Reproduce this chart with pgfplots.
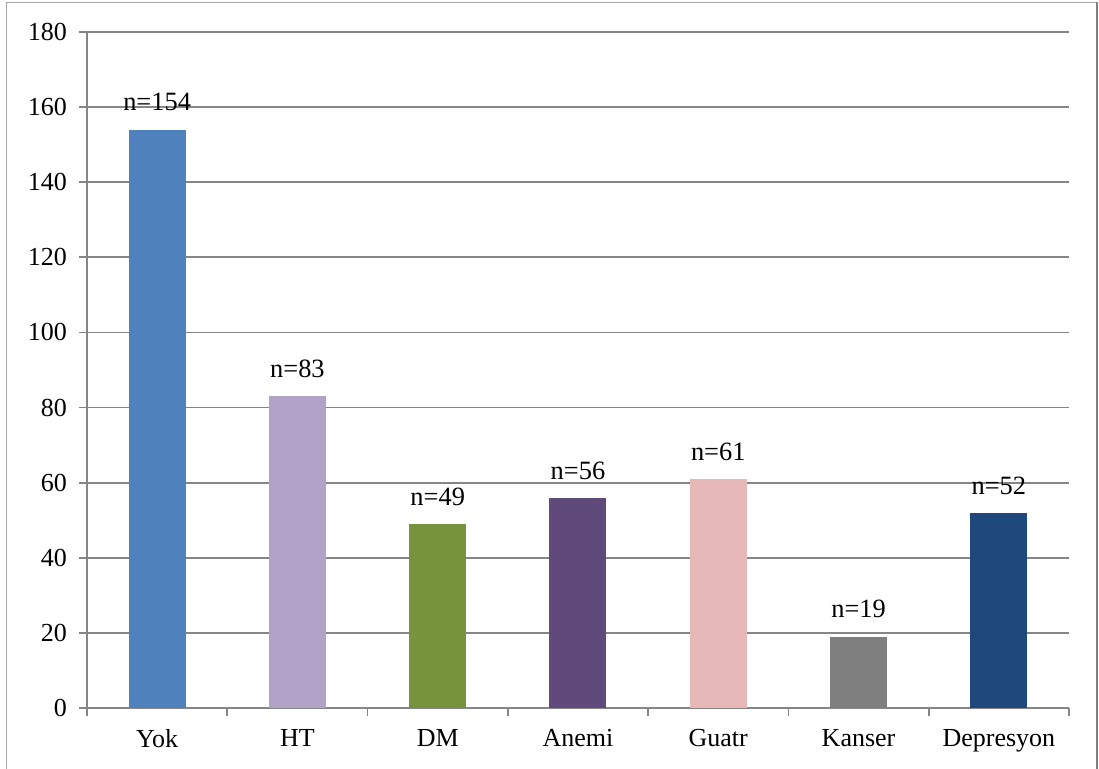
\documentclass[border=0pt]{standalone}
\usepackage{fontspec}
\setmainfont{Liberation Serif}
\usepackage{pgfplots}
\pgfplotsset{compat=1.18}
\definecolor{c1}{HTML}{4F81BD}
\definecolor{c2}{HTML}{B3A2C7}
\definecolor{c3}{HTML}{77933C}
\definecolor{c4}{HTML}{604A7B}
\definecolor{c5}{HTML}{E6B9B8}
\definecolor{c6}{HTML}{7F7F7F}
\definecolor{c7}{HTML}{1F497D}
\definecolor{gridc}{HTML}{868686}
\begin{document}
\begin{tikzpicture}
\useasboundingbox (0,0) rectangle (549.5pt,384.5pt);
\draw[line width=0.6pt, color=gray!70] (3.25pt,-1pt) -- (3.25pt,383.25pt) -- (548.5pt,383.25pt);
\draw[line width=1.2pt, color=gray] (548.5pt,383.25pt) -- (548.5pt,-1pt);
\begin{axis}[
  at={(43.5pt,30.5pt)}, anchor=south west,
  scale only axis, width=491pt, height=338pt,
  xmin=-0.5, xmax=6.5, ymin=0, ymax=180,
  ytick={0,20,...,180},
  xtick={0,...,6},
  xticklabels={Yok,HT,DM,Anemi,Guatr,Kanser,Depresyon},
  minor xtick={-0.5,0.5,...,6.5},
  axis lines*=left,
  axis line style={gridc, line width=0.9pt, -},
  ymajorgrids,
  grid style={gridc, line width=0.9pt},
  tick align=outside,
  major tick length=4pt, minor tick length=4pt,
  major x tick style={draw=none},
  minor x tick style={gridc, line width=0.9pt},
  ytick style={gridc, line width=0.9pt},
  /pgf/number format/assume math mode=true,
  ticklabel style={font=\fontsize{13}{15}\selectfont},
  yticklabel style={xshift=-2.5pt},
  xticklabel style={yshift=-3pt},
  ybar, bar width=28.5pt, bar shift=0pt,
  nodes near coords={n=\pgfmathprintnumber{\pgfplotspointmeta}},
  every node near coord/.append style={font=\fontsize{13.2}{15}\selectfont, anchor=south, inner sep=0pt, yshift=9pt, color=black},
]
\addplot[fill=c1, draw=none] coordinates {(0,154)};
\addplot[fill=c2, draw=none] coordinates {(1,83)};
\addplot[fill=c3, draw=none] coordinates {(2,49)};
\addplot[fill=c4, draw=none] coordinates {(3,56)};
\addplot[fill=c5, draw=none] coordinates {(4,61)};
\addplot[fill=c6, draw=none] coordinates {(5,19)};
\addplot[fill=c7, draw=none] coordinates {(6,52)};
\end{axis}
\end{tikzpicture}
\end{document}
